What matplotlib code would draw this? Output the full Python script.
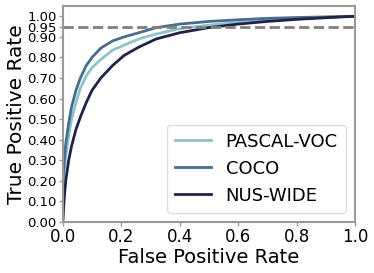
import numpy as np
import matplotlib
matplotlib.use("Agg")
import matplotlib.pyplot as plt

# ROC curves
fpr = [0, 0.005, 0.01, 0.02, 0.03, 0.045, 0.06, 0.08, 0.1, 0.13, 0.17,
       0.21, 0.26, 0.32, 0.4, 0.5, 0.6, 0.7, 0.8, 0.9, 1.0]
tpr_pascal = [0.15, 0.25, 0.32, 0.42, 0.50, 0.58, 0.65, 0.71, 0.75, 0.79, 0.835,
              0.86, 0.89, 0.914, 0.94, 0.957, 0.97, 0.98, 0.988, 0.995, 1.0]
tpr_coco = [0.2, 0.3, 0.38, 0.48, 0.56, 0.64, 0.70, 0.76, 0.80, 0.845, 0.88,
            0.9, 0.92, 0.945, 0.962, 0.975, 0.983, 0.99, 0.994, 0.997, 1.0]
tpr_nus = [0.0, 0.12, 0.2, 0.3, 0.37, 0.45, 0.51, 0.58, 0.64, 0.7, 0.76,
           0.81, 0.85, 0.89, 0.92, 0.945, 0.962, 0.975, 0.985, 0.993, 1.0]

labels = ['PASCAL-VOC', 'COCO', 'NUS-WIDE']
colors = ['#8cc4cb', '#4a6c8e', '#1f2346']
yticks = [0.0, 0.1, 0.2, 0.3, 0.4, 0.5, 0.6, 0.7, 0.8, 0.9, 0.95, 1.0]
xticks = [0.0, 0.2, 0.4, 0.6, 0.8, 1.0]

fig = plt.figure(figsize=(3.74, 2.73), dpi=100)
ax = fig.add_axes([0.168, 0.187, 0.781, 0.791])

for y, lab, c in zip([tpr_pascal, tpr_coco, tpr_nus], labels, colors):
    ax.plot(fpr, y, color=c, lw=2, label=lab)

ax.axhline(0.95, color='gray', ls='--', lw=2)

ax.set_xlim(0, 1)
ax.set_ylim(0, 1.05)
ax.set_xticks(xticks)
ax.set_xticklabels(['%.1f' % t for t in xticks], fontsize=12)
ax.set_yticks(yticks)
ax.set_yticklabels(['%.2f' % t for t in yticks], fontsize=9.5)
ax.tick_params(length=3, width=1, color='#999999', pad=1.5)

for s in ax.spines.values():
    s.set_color('#999999')
    s.set_linewidth(1.5)

ax.set_xlabel('False Positive Rate', fontsize=14, labelpad=1)
ax.set_ylabel('True Positive Rate', fontsize=14.5, labelpad=1)

ax.legend(loc='lower right', fontsize=13, handlelength=2.0, borderpad=0.45,
          labelspacing=0.5, handletextpad=0.8, framealpha=1,
          edgecolor='#dddddd')

fig.savefig('out.png', dpi=100)
